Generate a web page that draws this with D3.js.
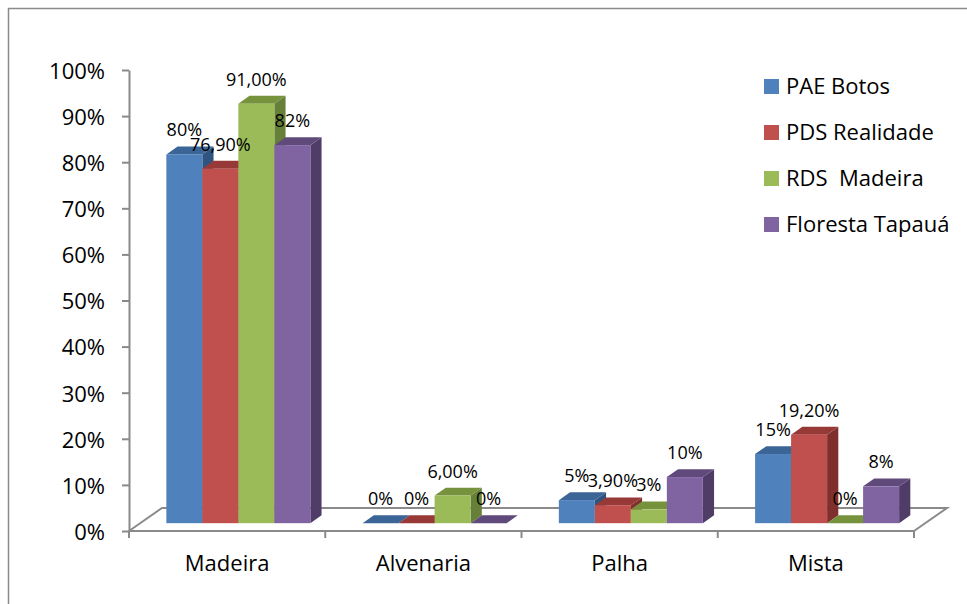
<!DOCTYPE html>
<html>
<head>
<meta charset="utf-8">
<script src="https://cdn.jsdelivr.net/npm/d3@7/dist/d3.min.js"></script>
<style>
  body { margin: 0; background: #fff; }
  svg { display: block; }
  text { font-family: "Open Sans", "Noto Sans", sans-serif; fill: #000; }
</style>
</head>
<body>
<svg id="chart" width="967" height="604"></svg>
<script>
// data
const categories = ["Madeira", "Alvenaria", "Palha", "Mista"];
const seriesNames = ["PAE Botos", "PDS Realidade", "RDS  Madeira", "Floresta Tapauá"];
const paeBotos = [0.80, 0, 0.05, 0.15];
const pdsRealidade = [0.769, 0, 0.039, 0.192];
const rdsMadeira = [0.91, 0.06, 0.03, 0];
const florestaTapaua = [0.82, 0, 0.10, 0.08];
const seriesValues = [paeBotos, pdsRealidade, rdsMadeira, florestaTapaua];
const labelPae = ["80%", "0%", "5%", "15%"];
const labelPds = ["76,90%", "0%", "3,90%", "19,20%"];
const labelRds = ["91,00%", "6,00%", "3%", "0%"];
const labelFloresta = ["82%", "0%", "10%", "8%"];
const seriesLabels = [labelPae, labelPds, labelRds, labelFloresta];
const yTicks = [0, 0.1, 0.2, 0.3, 0.4, 0.5, 0.6, 0.7, 0.8, 0.9, 1.0];

const frontColors = ["#4F81BD", "#C0504D", "#9BBB59", "#8064A2"];
const topColors = ["#3A6596", "#973A37", "#76923C", "#604A7B"];
const sideColors = ["#2F5480", "#7F302D", "#66803A", "#4F3D68"];

const svg = d3.select("#chart");
const axisGrey = "#8a8a8a";

// outer frame
svg.append("rect")
  .attr("x", 8.5).attr("y", 8.5)
  .attr("width", 975).attr("height", 620)
  .attr("fill", "none").attr("stroke", axisGrey).attr("stroke-width", 1.5);

const x = d3.scaleBand().domain(categories).range([129, 914]);
const y = d3.scaleLinear().domain([0, 1]).range([531, 70]);

// floor depth vector
const depthX = 33, depthY = -23;
const f0 = 0.34, f1 = 0.68;   // bar front / back depth
const groupW = 144;
const xs = d3.scaleBand().domain(seriesNames).range([0, groupW]);
const groupOffset = (x.bandwidth() - groupW) / 2;

// floor outline
const x0 = x.range()[0], x1 = x.range()[1], yb = y(0);
svg.append("path")
  .attr("d", `M${x0},${yb}L${x0 + depthX},${yb + depthY}L${x1 + depthX},${yb + depthY}L${x1},${yb}`)
  .attr("fill", "none").attr("stroke", axisGrey).attr("stroke-width", 2);

// y axis
const yAxis = d3.axisLeft(y)
  .tickValues(yTicks)
  .tickFormat(d3.format(".0%"))
  .tickSizeInner(7)
  .tickSizeOuter(0)
  .tickPadding(17);
const gy = svg.append("g").attr("transform", `translate(${x0},0)`).call(yAxis);
gy.selectAll("path, line").attr("stroke", axisGrey).attr("stroke-width", 2);
gy.selectAll("text").attr("font-size", 22).attr("font-family", null).attr("dy", "0.38em");

// category axis
svg.append("line")
  .attr("x1", x0).attr("x2", x1).attr("y1", yb).attr("y2", yb)
  .attr("stroke", axisGrey).attr("stroke-width", 2);
const bounds = categories.map(c => x(c)).concat([x1]);
svg.selectAll(".xtick").data(bounds).enter().append("line")
  .attr("x1", d => d).attr("x2", d => d)
  .attr("y1", yb).attr("y2", yb + 7)
  .attr("stroke", axisGrey).attr("stroke-width", 2);
svg.selectAll(".xlabel").data(categories).enter().append("text")
  .attr("x", d => x(d) + x.bandwidth() / 2)
  .attr("y", 571)
  .attr("text-anchor", "middle")
  .attr("font-size", 22)
  .text(d => d);

// bars (left to right for painter's order)
const bars = [];
categories.forEach((c, ci) => {
  seriesNames.forEach((s, si) => {
    bars.push({ci, si, v: seriesValues[si][ci], label: seriesLabels[si][ci]});
  });
});

const gBars = svg.append("g");
bars.forEach(b => {
  const xl = x(categories[b.ci]) + groupOffset + f0 * depthX + xs(seriesNames[b.si]);
  const xr = xl + xs.bandwidth();
  const base = yb + f0 * depthY;
  const top = base - (yb - y(b.v));
  const dx = (f1 - f0) * depthX, dy = (f1 - f0) * depthY;
  // side face
  if (b.v > 0) {
    gBars.append("path")
      .attr("d", `M${xr},${base}L${xr + dx},${base + dy}L${xr + dx},${top + dy}L${xr},${top}Z`)
      .attr("fill", sideColors[b.si]);
  }
  // top face
  gBars.append("path")
    .attr("d", `M${xl},${top}L${xr},${top}L${xr + dx},${top + dy}L${xl + dx},${top + dy}Z`)
    .attr("fill", topColors[b.si]);
  // front face
  if (b.v > 0) {
    gBars.append("rect")
      .attr("x", xl).attr("y", top)
      .attr("width", xr - xl).attr("height", base - top)
      .attr("fill", frontColors[b.si]);
  }
  b.cx = (xl + xr) / 2;
  b.top = top;
});

// data labels
svg.selectAll(".dlabel").data(bars).enter().append("text")
  .attr("x", d => d.cx)
  .attr("y", d => d.top - 18)
  .attr("text-anchor", "middle")
  .attr("font-size", 18)
  .text(d => d.label);

// legend
const legend = svg.append("g").attr("transform", "translate(764,79)");
const li = legend.selectAll("g").data(seriesNames).enter().append("g")
  .attr("transform", (d, i) => `translate(0,${i * 46})`);
li.append("rect").attr("width", 15).attr("height", 15)
  .attr("fill", (d, i) => frontColors[i]);
li.append("text")
  .attr("x", 22).attr("y", 14.5)
  .attr("font-size", 22)
  .style("white-space", "pre")
  .text(d => d);
</script>
</body>
</html>
